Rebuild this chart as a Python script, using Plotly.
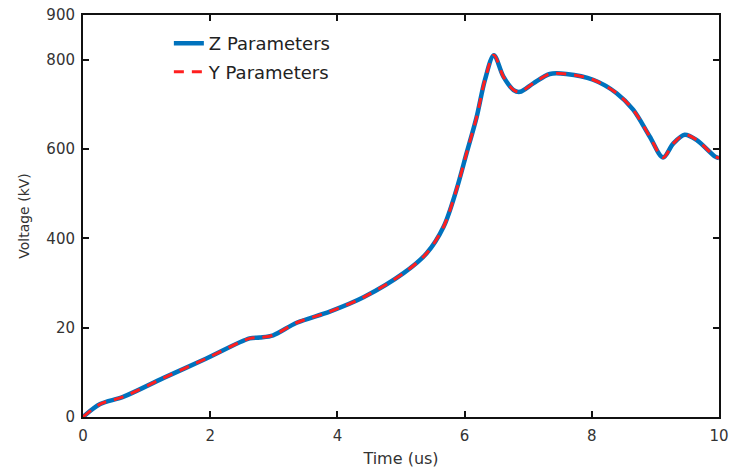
import plotly.graph_objects as go

# Transient voltage waveform (kV) versus time (us)
time_us = [0.0, 0.27, 0.63, 1.26, 1.94, 2.62, 2.78, 2.99, 3.36, 3.88, 4.41,
           5.04, 5.40, 5.67, 5.87, 6.03, 6.19, 6.32, 6.46, 6.61, 6.77, 6.87, 7.08,
           7.34, 7.60, 8.02, 8.39, 8.65, 8.91, 9.12, 9.28, 9.46, 9.65, 9.94, 10.0]
voltage_kv = [0, 29, 45, 87, 131, 176, 178, 183, 211, 236, 268,
              322, 366, 426, 508, 590, 672, 755, 810, 762, 732, 728, 747,
              768, 768, 755, 725, 688, 628, 581, 612, 632, 620, 583, 580]

y_tickvals = [0, 200, 400, 600, 800, 900]
y_ticktext = ["0", "20", "400", "600", "800", "900"]
x_tickvals = [0, 2, 4, 6, 8, 10]

font_family = "DejaVu Sans, Arial, sans-serif"

fig = go.Figure()
fig.add_trace(go.Scatter(
    x=time_us, y=voltage_kv, mode="lines", name="Z Parameters", legendgroup="z",
    line=dict(color="#0072BD", width=4.5, shape="spline", smoothing=0.9),
))
fig.add_trace(go.Scatter(
    x=time_us, y=voltage_kv, mode="lines", name="Y Parameters", legendgroup="y",
    line=dict(color="#FF1F1F", width=3, dash="10px,8px", shape="spline", smoothing=0.9),
))

axis_common = dict(
    showgrid=False, zeroline=False, showline=True, linecolor="#111111", linewidth=2,
    mirror="ticks", ticks="inside", ticklen=6, tickwidth=2, tickcolor="#111111",
    tickfont=dict(family=font_family, size=15, color="#333333"),
    automargin=False,
)

fig.update_layout(
    width=732, height=468,
    margin=dict(l=83, r=13, t=15, b=51),
    paper_bgcolor="white", plot_bgcolor="white",
    font=dict(family=font_family, color="#333333"),
    xaxis=dict(range=[0, 10], tickvals=x_tickvals, ticklabelstandoff=4,
               title=dict(text="Time (us)", font=dict(size=16, color="#333333"), standoff=10),
               **axis_common),
    yaxis=dict(range=[0, 900], tickvals=y_tickvals, ticktext=y_ticktext, ticklabelstandoff=3,
               title=dict(text="Voltage (kV)", font=dict(size=14, color="#333333"), standoff=13),
               **axis_common),
    legend=dict(x=0.135, y=0.975, xanchor="left", yanchor="top",
                bgcolor="rgba(0,0,0,0)", borderwidth=0,
                font=dict(family=font_family, size=18, color="#222222"),
                tracegroupgap=2),
    showlegend=True,
)

fig.write_html("out.html")
